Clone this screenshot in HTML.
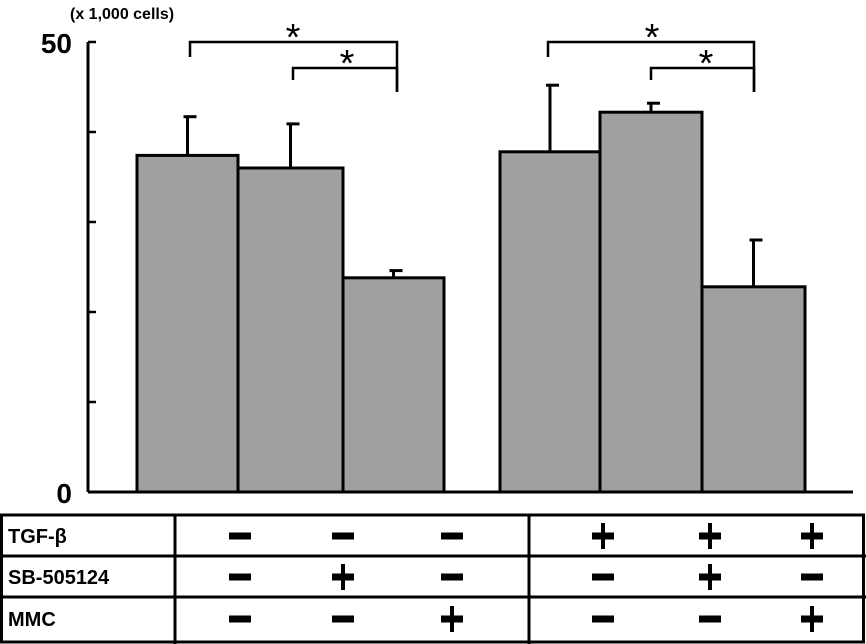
<!DOCTYPE html>
<html><head><meta charset="utf-8"><style>
body{margin:0;background:#fff;}
svg{display:block;font-family:"Liberation Sans",Arial,sans-serif;font-weight:bold;}
</style></head><body>
<svg width="866" height="644" viewBox="0 0 866 644">
<g id="chart"></g>
</svg>
<script>
const categories=["ctrl","SB","MMC","TGF","TGF+SB","TGF+MMC"];
const values=[37.4,36.0,23.8,37.8,42.2,22.8];
const errTops=[41.7,40.9,24.6,45.2,43.2,28.0];
const ticks=[0,10,20,30,40,50];
const tickLabels=["0","50"];
const rowLabels=["TGF-β","SB-505124","MMC"];
const signs=[["-","-","-","+","+","+"],["-","+","-","-","+","-"],["-","-","+","-","-","+"]];

const NS="http://www.w3.org/2000/svg";
const g=document.getElementById('chart');
function el(t,a){const e=document.createElementNS(NS,t);for(const k in a)e.setAttribute(k,a[k]);g.appendChild(e);return e;}
const y=v=>492-v*9.0;
const barLeft=[137,238,343,500,600,702];
const barW=[101,105,101,100,102,103];
const bx=i=>barLeft[i];

let e=el('line',{x1:88,y1:y(50),x2:88,y2:492,stroke:'#000','stroke-width':3});

e=el('line',{x1:88,y1:492,x2:853,y2:492,stroke:'#000','stroke-width':3});

ticks.forEach(t=>{const l=el('line',{x1:88,y1:y(t),x2:96,y2:y(t),stroke:'#000','stroke-width':2.5});
});
[[0,0],[1,50]].forEach(([i,v])=>{const t=el('text',{x:72,y:y(v)+11,'text-anchor':'end','font-size':28});t.textContent=tickLabels[i];
});
e=el('text',{x:70,y:19,'font-size':16});e.textContent="(x 1,000 cells)";


values.forEach((v,i)=>{
 const cx=bx(i)+barW[i]/2;
 const el1=el('line',{x1:cx,y1:y(errTops[i]),x2:cx,y2:y(v),stroke:'#000','stroke-width':3});
 
 const c=el('line',{x1:cx-4,y1:y(errTops[i]),x2:cx+9,y2:y(errTops[i]),stroke:'#000','stroke-width':3});
 
 const r=el('rect',{x:bx(i),y:y(v),width:barW[i],height:492-y(v),fill:'#a0a0a0',stroke:'#000','stroke-width':3});
 
});

function bracket(x1,x2,top,l,r,sx){
 const p=el('path',{d:`M${x1} ${l}V${top}H${x2}V${r}`,fill:'none',stroke:'#000','stroke-width':2.5});
 
 const s=el('text',{x:sx,y:top+8,'text-anchor':'middle','font-size':38,'font-weight':'normal'});s.textContent="*";
 
}
bracket(190,397,42,57,92,293);
bracket(293,397,68,80,92,347);
bracket(548,754,42,57,92,652);
bracket(651,754,68,80,92,706);

e=el('rect',{x:1.5,y:515,width:862,height:127,fill:'none',stroke:'#000','stroke-width':3});

[556,597].forEach(yy=>{const l=el('line',{x1:0,y1:yy,x2:866,y2:yy,stroke:'#000','stroke-width':3});
});
[175,529].forEach(xx=>{const l=el('line',{x1:xx,y1:515,x2:xx,y2:644,stroke:'#000','stroke-width':3});
});
const colX=[240,343,452,603,710,812];
const rowY=[541,582,624];
rowLabels.forEach((lab,r)=>{
 const t=el('text',{x:8,y:rowY[r]+2,'font-size':20});t.textContent=lab;
 
 signs[r].forEach((s,c)=>{
  const cx=colX[c],cy=rowY[r]-5;
  const h=el('rect',{x:cx-11,y:cy-3.5,width:22,height:7,fill:'#000'});
  
  if(s=='+'){const v=el('rect',{x:cx-2,y:cy-13,width:4,height:26,fill:'#000'});
   }
 });
});
</script>
</body></html>
